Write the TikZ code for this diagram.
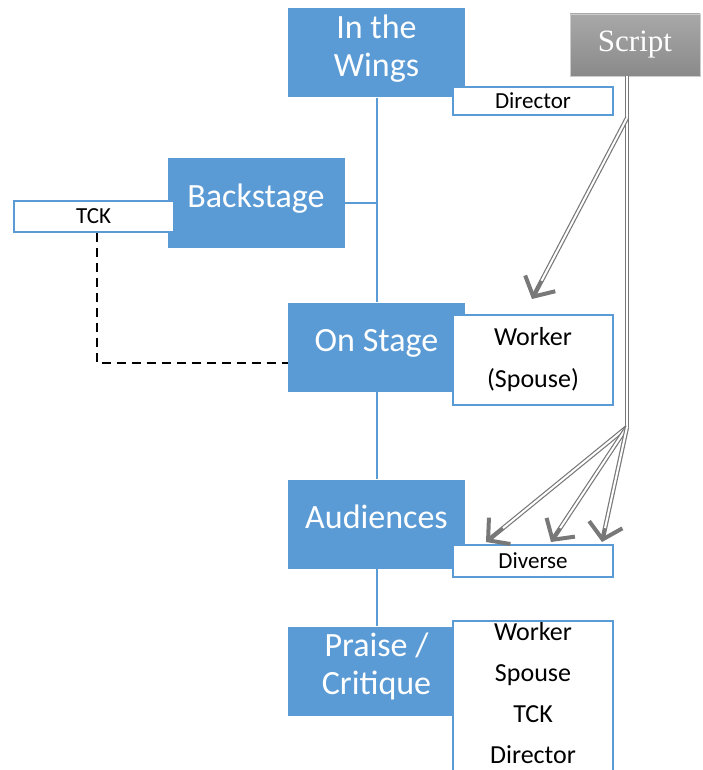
\documentclass[tikz,border=0pt]{standalone}
\usepackage{fontspec}
\setmainfont{Liberation Serif}
\newfontfamily\calibri{Carlito}
\usetikzlibrary{arrows.meta,calc}

\definecolor{stageblue}{HTML}{5B9BD5}
\definecolor{scriptgray}{HTML}{787878}

\tikzset{
  stagebox/.style={fill=stageblue, text=white, minimum width=177pt, minimum height=89pt,
    inner sep=0pt, align=center, font=\calibri\fontsize{34}{38}\selectfont,
    execute at end node={\rule[-14pt]{0pt}{0pt}}},
  rolebox/.style={draw=stageblue, line width=2pt, fill=white, minimum width=160pt,
    inner sep=0pt, align=center, font=\calibri\fontsize{23}{27}\selectfont},
  stageline/.style={draw=stageblue, line width=2pt},
  scriptline/.style={draw=scriptgray, line width=1.2pt, double=white, double distance=2pt},
  scripttip/.style={draw=scriptgray, line width=3pt, -{Straight Barb[length=15pt,width=34pt,line width=4pt]}}
}

\begin{document}
\begin{tikzpicture}[x=1pt, y=-1pt]
  \useasboundingbox (0,0) rectangle (702,770);

  % the stages
  \node[stagebox] (wings) at (376.5,53) {In the\\Wings};
  \node[stagebox] (backstage) at (256,203) {Backstage};
  \node[stagebox] (onstage) at (376.5,347) {On Stage};
  \node[stagebox] (audiences) at (376.5,524) {Audiences};
  \node[stagebox] (praise) at (376.5,671) {Praise /\\Critique};

  % the line through the stages
  \draw[stageline] (wings.south) -- (onstage.north);
  \draw[stageline] (backstage.east) -- (backstage.east -| wings.south);
  \draw[stageline] (onstage.south) -- (audiences.north);
  \draw[stageline] (audiences.south) -- (praise.north);

  % who is there
  \node[rolebox, minimum height=28pt] (director) at (533,101) {Director};
  \node[rolebox, minimum height=31pt] (tck) at (93.5,216.5) {TCK};
  \node[rolebox, minimum height=90pt, font=\calibri\fontsize{26}{42}\selectfont] (worker) at (533,360) {Worker\\(Spouse)};
  \node[rolebox, minimum height=32pt] (diverse) at (533,561) {Diverse};
  \node[rolebox, minimum height=158pt, anchor=north, font=\calibri\fontsize{26}{41}\selectfont] (roles) at (533,620)
    {\rule{0pt}{19pt}Worker\\Spouse\\TCK\\Director\rule[-16pt]{0pt}{0pt}};

  % the TCK is on stage too
  \draw[black, line width=2pt, dash pattern=on 9pt off 6pt] ([xshift=3pt]tck.south) |- ([yshift=-16pt]onstage.west);

  % the script
  \node[draw=white!80!black, top color=white!66!black, bottom color=white!54!black,
    minimum width=130pt, minimum height=62pt, text=white, font=\fontsize{31}{36}\selectfont] (script) at (635,45) {Script};
  \coordinate (split1) at (627,118);
  \coordinate (split2) at (627,427);
  \coordinate (toworker) at ($(worker.north)+(-1,-15)$);
  \draw[scriptline] (script.south -| split1) -- (split2);
  \draw[scriptline, shorten >=4pt] (split1) -- (toworker);
  \draw[scripttip] ($(split1)!0.9!(toworker)$) -- (toworker);
  \foreach \dx [count=\i] in {34,99,150} {
    \coordinate (todiverse\i) at ([xshift=\dx pt, yshift=2pt]diverse.north west);
    \draw[scriptline, shorten >=4pt] (split2) -- (todiverse\i);
    \draw[scripttip] ($(split2)!0.88!(todiverse\i)$) -- (todiverse\i);
  }
\end{tikzpicture}
\end{document}
